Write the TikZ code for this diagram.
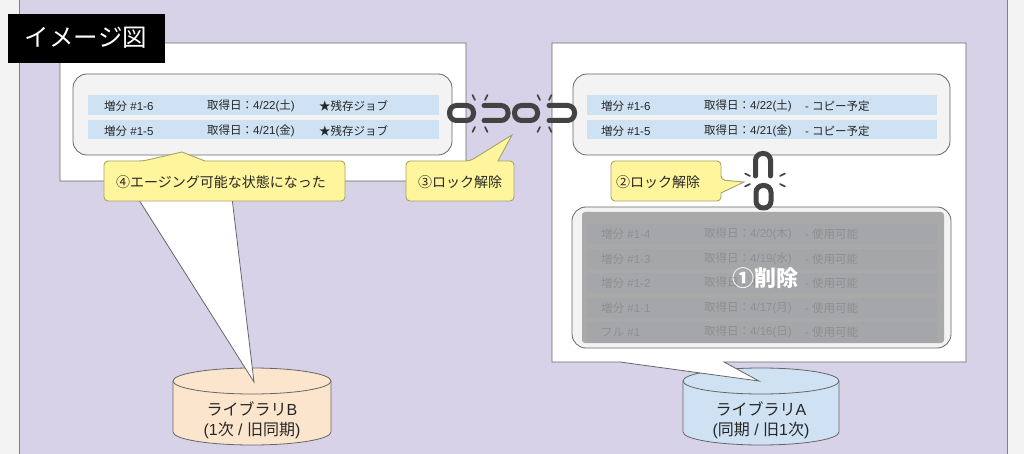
\documentclass[tikz,border=0pt]{standalone}
\usepackage{fontspec}
\setmainfont{Liberation Sans}
\newfontfamily\cjk{Noto Sans CJK JP}
\newcommand{\jp}[1]{{\cjk #1}}
\definecolor{pagegray}{HTML}{F3F3F3}
\definecolor{lilac}{HTML}{D8D2E8}
\definecolor{rowblue}{HTML}{CFE2F3}
\definecolor{peach}{HTML}{FCE5CD}
\definecolor{noteyellow}{HTML}{FFF59D}
\definecolor{noteedge}{HTML}{A3A36B}
\definecolor{edgegray}{HTML}{666666}
\definecolor{chaingray}{HTML}{434343}
\tikzset{
	panelbox/.style={draw=edgegray, fill=white, line width=0.8pt},
	roundbox/.style={draw=edgegray, fill=pagegray, line width=0.8pt, rounded corners=14pt},
	rowbar/.style={fill=rowblue},
	rowtext/.style={anchor=west, inner sep=0pt, text=black!85, font=\fontsize{11.5}{13}\selectfont},
	notebox/.style={draw=noteedge, fill=noteyellow, line width=0.9pt},
	notetext/.style={inner sep=0pt, text=black!85, font=\fontsize{14}{16}\selectfont},
	drumbody/.style={draw=edgegray, line width=0.8pt},
	drumtext/.style={inner sep=0pt, align=center, text=black!85, font=\fontsize{16}{20}\selectfont},
	chainlink/.style={draw=chaingray, line width=5pt, line cap=round},
	spark/.style={draw=chaingray, line width=1.6pt, line cap=round}
}
\begin{document}
\begin{tikzpicture}[x=1pt, y=-1pt]
	\useasboundingbox (0,0) rectangle (1024,454);
	\fill [pagegray] (0,0) rectangle (1024,454);
	\draw [draw=gray, fill=lilac, line width=0.8pt] (19,-5) rectangle (1007,459);
	% storage drums
	\draw [drumbody, fill=peach] (173,381) -- (173,432) arc [start angle=180, end angle=0, x radius=79, y radius=13] -- (331,381) arc [start angle=0, end angle=-180, x radius=79, y radius=13] -- cycle;
	\draw [drumbody] (173,381) arc [start angle=180, end angle=0, x radius=79, y radius=13];
	\draw [drumbody, fill=rowblue] (683,381) -- (683,432) arc [start angle=180, end angle=0, x radius=78, y radius=13] -- (839,381) arc [start angle=0, end angle=-180, x radius=78, y radius=13] -- cycle;
	\draw [drumbody] (683,381) arc [start angle=180, end angle=0, x radius=78, y radius=13];
	\node [drumtext] (libb) at (252,420) {\jp{ライブラリ}B\\(1\jp{次} / \jp{旧同期})};
	\node [drumtext] (liba) at (761,420) {\jp{ライブラリ}A\\(\jp{同期} / \jp{旧}1\jp{次})};
	% white panels with their tails
	\draw [panelbox] (60,43) -- (466,43) -- (466,181) -- (230,181) -- (254,382) -- (127,181) -- (60,181) -- cycle;
	\draw [panelbox] (552,43) -- (966,43) -- (966,362) -- (724,362) -- (759,381) -- (620,362) -- (552,362) -- cycle;
	% left panel
	\draw [roundbox] (73,74) rectangle (452,155);
	\fill [rowbar] (88,95) rectangle (439,115);
	\fill [rowbar] (88,120) rectangle (439,139);
	\node [rowtext] (lefta) at (104,106) {\jp{増分} \#1-6};
	\node [rowtext] (leftb) at (207,106) {\jp{取得日：}4/22(\jp{土})};
	\node [rowtext] (leftc) at (319,106) {\jp{★残存ジョブ}};
	\node [rowtext] (leftd) at (104,131) {\jp{増分} \#1-5};
	\node [rowtext] (lefte) at (207,131) {\jp{取得日：}4/21(\jp{金})};
	\node [rowtext] (leftf) at (319,131) {\jp{★残存ジョブ}};
	% right panel, upper box
	\draw [roundbox] (573,74) rectangle (950,155);
	\fill [rowbar] (587,95) rectangle (937,115);
	\fill [rowbar] (587,120) rectangle (937,139);
	\node [rowtext] (righta) at (601,106) {\jp{増分} \#1-6};
	\node [rowtext] (rightb) at (704,106) {\jp{取得日：}4/22(\jp{土})};
	\node [rowtext] (rightc) at (805,106) {- \jp{コピー予定}};
	\node [rowtext] (rightd) at (601,131) {\jp{増分} \#1-5};
	\node [rowtext] (righte) at (704,131) {\jp{取得日：}4/21(\jp{金})};
	\node [rowtext] (rightf) at (805,131) {- \jp{コピー予定}};
	% right panel, lower box
	\draw [roundbox] (572,207) rectangle (951,348);
	\fill [rowbar] (587,224) rectangle (937,244);
	\fill [rowbar] (587,249) rectangle (937,269);
	\fill [rowbar] (587,273) rectangle (937,293);
	\fill [rowbar] (587,298) rectangle (937,318);
	\fill [rowbar] (587,322) rectangle (937,342);
	\node [rowtext] (olda) at (601,234) {\jp{増分} \#1-4};
	\node [rowtext] (oldb) at (704,234) {\jp{取得日：}4/20(\jp{木})};
	\node [rowtext] (oldc) at (805,234) {- \jp{使用可能}};
	\node [rowtext] (oldd) at (601,259) {\jp{増分} \#1-3};
	\node [rowtext] (olde) at (704,259) {\jp{取得日：}4/19(\jp{水})};
	\node [rowtext] (oldf) at (805,259) {- \jp{使用可能}};
	\node [rowtext] (oldg) at (601,283) {\jp{増分} \#1-2};
	\node [rowtext] (oldh) at (704,283) {\jp{取得日：}4/18(\jp{火})};
	\node [rowtext] (oldi) at (805,283) {- \jp{使用可能}};
	\node [rowtext] (oldj) at (601,308) {\jp{増分} \#1-1};
	\node [rowtext] (oldk) at (704,308) {\jp{取得日：}4/17(\jp{月})};
	\node [rowtext] (oldl) at (805,308) {- \jp{使用可能}};
	\node [rowtext] (oldm) at (601,332) {\jp{フル} \#1};
	\node [rowtext] (oldn) at (704,332) {\jp{取得日：}4/16(\jp{日})};
	\node [rowtext] (oldo) at (805,332) {- \jp{使用可能}};
	\fill [black!38, opacity=0.87, rounded corners=3pt] (582,212) rectangle (944,343);
	\node [inner sep=0pt, text=white, font=\cjk\bfseries\fontsize{22}{24}\selectfont] (erase) at (765,278) {①削除};
	% broken chains
	\draw [chainlink, rounded corners=7pt] (449.5,105.5) rectangle (473.5,120.5);
	\draw [chainlink, rounded corners=7pt] (484,105.5) -- (508,105.5) -- (508,120.5) -- (484,120.5);
	\draw [chainlink, rounded corners=7pt] (514.5,105.5) rectangle (537.5,120.5);
	\draw [chainlink, rounded corners=7pt] (549,105.5) -- (574.5,105.5) -- (574.5,120.5) -- (549,120.5);
	\draw [chainlink, rounded corners=7pt] (755.5,176) -- (755.5,153.5) -- (770.5,153.5) -- (770.5,176);
	\draw [chainlink, rounded corners=7pt] (756,185.5) rectangle (771,208);
	\draw [spark] (472.5,95) -- (475,100);
	\draw [spark] (487.5,95) -- (485,100);
	\draw [spark] (472.5,132) -- (475,127);
	\draw [spark] (487.5,132) -- (485,127);
	\draw [spark] (537.5,95) -- (540,100);
	\draw [spark] (551.5,95) -- (549,100);
	\draw [spark] (537.5,132) -- (540,127);
	\draw [spark] (551.5,132) -- (549,127);
	\draw [spark] (745,173.5) -- (750,176);
	\draw [spark] (785,173.5) -- (780,176);
	\draw [spark] (745,186.5) -- (750,184);
	\draw [spark] (785,186.5) -- (780,184);
	% yellow notes
	\draw [notebox] (143,161) -- (182,152) -- (205,161) [rounded corners=4pt] -- (345,161) -- (345,201) -- (104,201) -- (104,161) -- cycle;
	\draw [notebox] (470,161) -- (512,135) -- (498,161) [rounded corners=4pt] -- (514,161) -- (514,201) -- (406,201) -- (406,161) -- cycle;
	\draw [notebox] (721,180) -- (744,182) -- (721,193) [rounded corners=4pt] -- (721,201) -- (611,201) -- (611,161) -- (721,161) -- cycle;
	\node [notetext] (agenote) at (221,182) {\jp{④エージング可能な状態になった}};
	\node [notetext] (locknotea) at (460,182) {\jp{③ロック解除}};
	\node [notetext] (locknoteb) at (658,182) {\jp{②ロック解除}};
	% title tag
	\fill [black] (8,14) rectangle (165,63);
	\node [inner sep=0pt, text=white, font=\cjk\fontsize{24.5}{26}\selectfont] (title) at (86,38) {イメージ図};
\end{tikzpicture}
\end{document}
